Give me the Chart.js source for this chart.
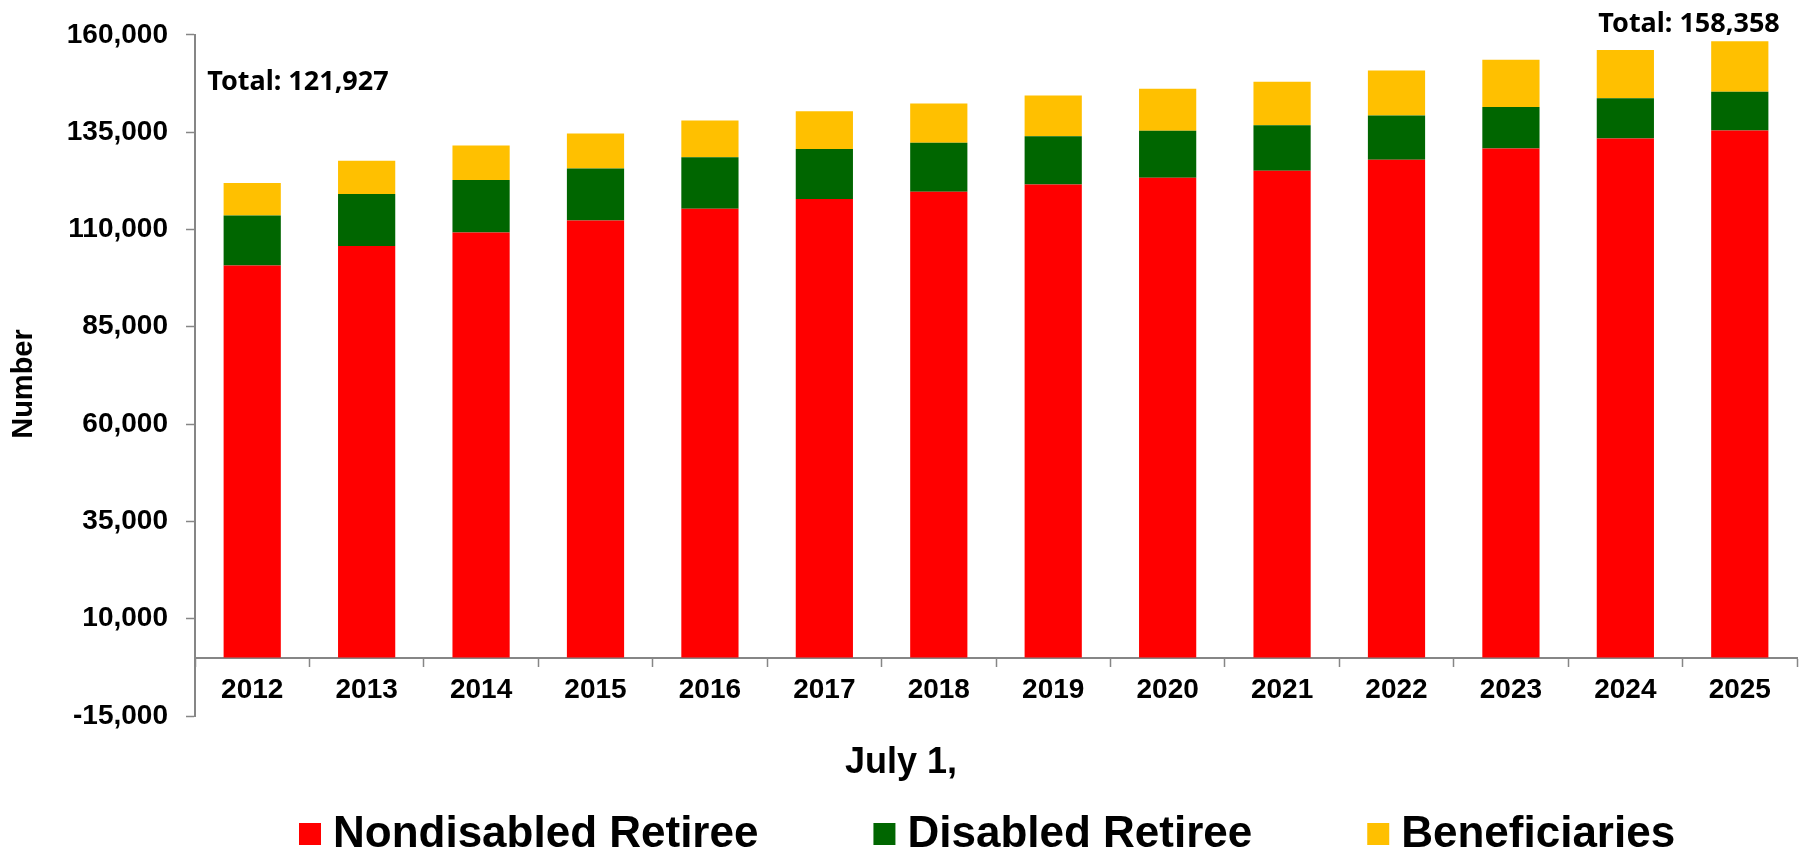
<!DOCTYPE html>
<html>
<head>
<meta charset="utf-8">
<script src="https://cdn.jsdelivr.net/npm/chart.js@4.4.1/dist/chart.umd.min.js"></script>
<style>
  body { margin: 0; background: #fff; }
  #wrap { width: 1802px; height: 853px; }
</style>
</head>
<body>
<div id="wrap"><canvas id="retireeChart" width="1802" height="853"></canvas></div>
<script>
// values
const years = ['2012', '2013', '2014', '2015', '2016', '2017', '2018', '2019', '2020', '2021', '2022', '2023', '2024', '2025'];
const nondisabledRetiree = [100740, 105770, 109190, 112270, 115340, 117810, 119690, 121570, 123290, 125080, 127900, 130800, 133360, 135410];
const disabledRetiree = [12810, 13320, 13490, 13360, 13230, 12820, 12560, 12390, 12040, 11690, 11350, 10680, 10330, 9990];
const beneficiaries = [8377, 8550, 8880, 9010, 9400, 9730, 10070, 10420, 10840, 11200, 11610, 12120, 12390, 12958];
const yTicks = [-15000, 10000, 35000, 60000, 85000, 110000, 135000, 160000];

const seriesNames = ['Nondisabled Retiree', 'Disabled Retiree', 'Beneficiaries'];
const seriesColors = ['#FF0000', '#006600', '#FFC000'];

const totals = years.map((y, i) => nondisabledRetiree[i] + disabledRetiree[i] + beneficiaries[i]);

const arial = '"Liberation Sans", Arial, sans-serif';
const axisGray = '#868686';

// annotations, axis titles and legend drawn on the canvas
const extrasPlugin = {
    id: 'extras',
    afterDraw(chart) {
        const ctx = chart.ctx;
        const x = chart.scales.x;
        const area = chart.chartArea;
        ctx.save();
        ctx.fillStyle = '#000';

        // total labels
        ctx.font = 'bold 27px "Noto Sans", sans-serif';
        ctx.textBaseline = 'alphabetic';
        ctx.textAlign = 'left';
        ctx.fillText('Total: ' + totals[0].toLocaleString('en-US'), x.getPixelForValue(0) - 45, area.top + 55);
        ctx.textAlign = 'right';
        const last = years.length - 1;
        ctx.fillText('Total: ' + totals[last].toLocaleString('en-US'), x.getPixelForValue(last) + 40, area.top - 3);

        // x axis title
        ctx.font = 'bold 36px ' + arial;
        ctx.textAlign = 'center';
        ctx.fillText('July 1,', 901, 773);

        // y axis title
        ctx.save();
        ctx.translate(24, 384);
        ctx.rotate(-Math.PI / 2);
        ctx.font = 'bold 29px ' + arial;
        ctx.textBaseline = 'middle';
        ctx.fillText('Number', 0, 0);
        ctx.restore();

        // legend
        ctx.font = 'bold 44px ' + arial;
        ctx.textAlign = 'left';
        ctx.textBaseline = 'alphabetic';
        let lx = 299;
        chart.data.datasets.forEach((ds) => {
            ctx.fillStyle = ds.backgroundColor;
            ctx.fillRect(lx, 823, 22, 22);
            ctx.fillStyle = '#000';
            ctx.fillText(ds.label, lx + 34, 847);
            lx += 34 + ctx.measureText(ds.label).width + 115;
        });
        ctx.restore();
    }
};

const canvas = document.getElementById('retireeChart');
new Chart(canvas, {
    type: 'bar',
    data: {
        labels: years,
        datasets: [
            { label: seriesNames[0], data: nondisabledRetiree, backgroundColor: seriesColors[0] },
            { label: seriesNames[1], data: disabledRetiree, backgroundColor: seriesColors[1] },
            { label: seriesNames[2], data: beneficiaries, backgroundColor: seriesColors[2] }
        ]
    },
    options: {
        responsive: false,
        animation: false,
        devicePixelRatio: 1,
        layout: { padding: { top: 33, right: 5, bottom: 137, left: 0 } },
        datasets: {
            bar: { categoryPercentage: 0.5, barPercentage: 1 }
        },
        plugins: {
            legend: { display: false },
            tooltip: { enabled: false }
        },
        scales: {
            x: {
                stacked: true,
                position: { y: 0 },
                border: { display: true, color: axisGray, width: 2 },
                grid: { drawOnChartArea: false, drawTicks: true, tickLength: 8, tickColor: axisGray, tickWidth: 1.5 },
                ticks: { color: '#000', padding: 8, font: { family: arial, size: 28, weight: 'bold' } }
            },
            y: {
                stacked: true,
                min: yTicks[0],
                max: yTicks[yTicks.length - 1],
                afterFit(scale) { scale.width = 195; },
                afterBuildTicks(scale) { scale.ticks = yTicks.map(v => ({ value: v })); },
                border: { display: true, color: axisGray, width: 2 },
                grid: { drawOnChartArea: false, drawTicks: true, tickLength: 9, tickColor: axisGray, tickWidth: 1.5 },
                ticks: {
                    color: '#000',
                    padding: 18,
                    font: { family: arial, size: 28, weight: 'bold' },
                    callback: (v) => Number(v).toLocaleString('en-US')
                }
            }
        }
    },
    plugins: [extrasPlugin]
});
</script>
</body>
</html>
